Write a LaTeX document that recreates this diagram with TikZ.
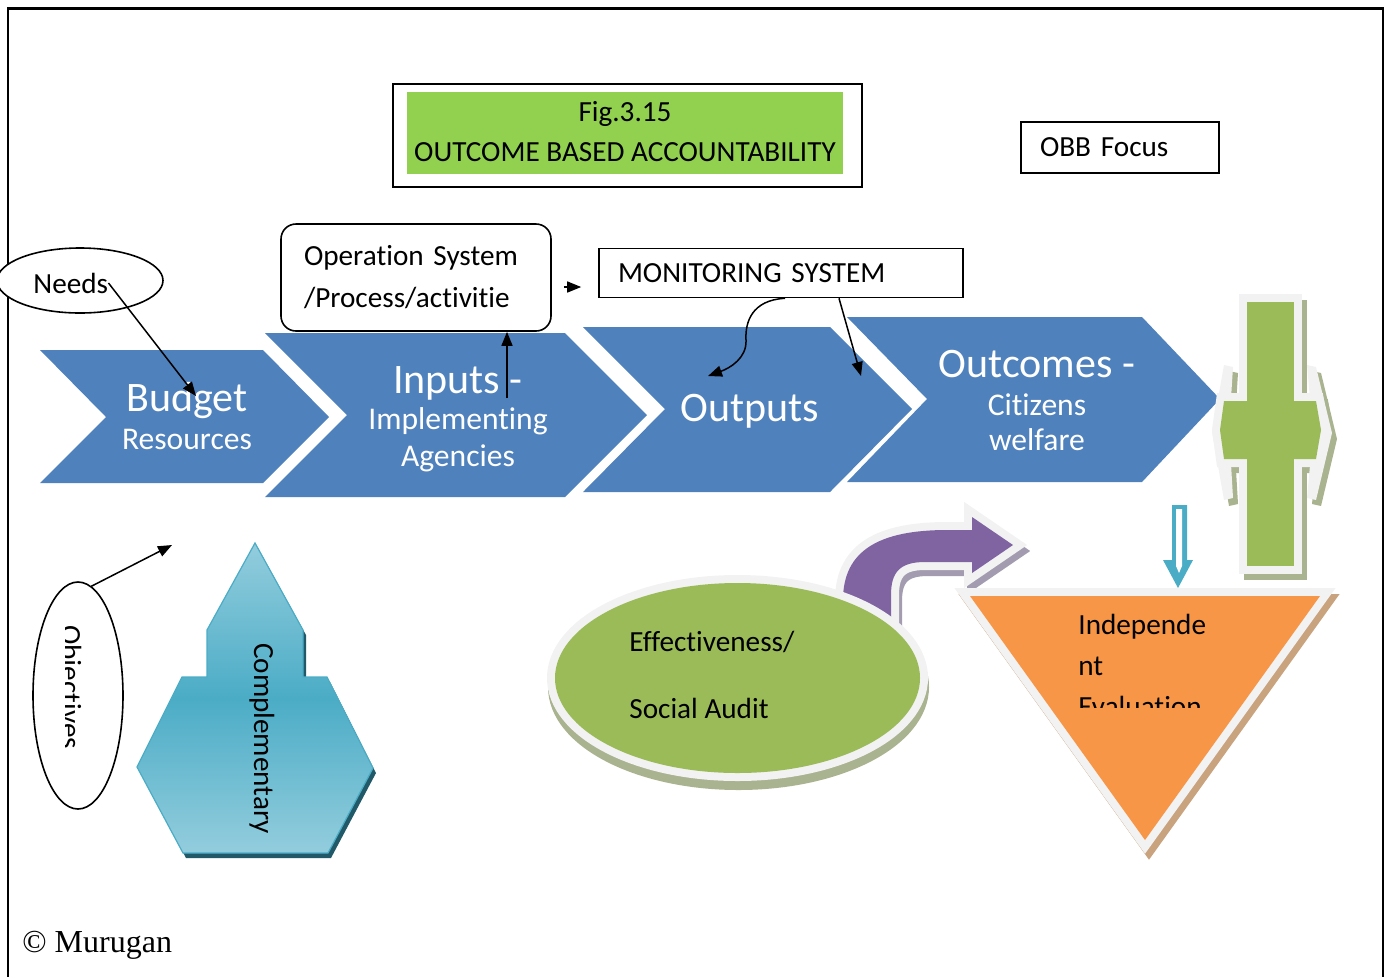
\documentclass[tikz,border=0pt]{standalone}
\usepackage{fontspec}
\setmainfont{Carlito}[Ligatures=NoCommon]
\newfontfamily\creditfont{Liberation Serif}
\usetikzlibrary{arrows.meta,shapes.geometric}

\definecolor{chevblue}{HTML}{4F81BD}
\definecolor{titlegreen}{HTML}{92D050}
\definecolor{leafgreen}{HTML}{9BBB59}
\definecolor{evalorange}{HTML}{F79646}
\definecolor{auditpurple}{HTML}{8064A2}
\definecolor{compteal}{HTML}{4BACC6}
\definecolor{complight}{HTML}{93CDDD}
\definecolor{compshadow}{HTML}{215968}
\definecolor{rimgray}{HTML}{F2F2F2}
\definecolor{greenshadow}{HTML}{A9B38F}
\definecolor{orangeshadow}{HTML}{C9A27E}
\definecolor{purpleshadow}{HTML}{A39BB0}

\begin{document}
\begin{tikzpicture}[x=0.5pt, y=-0.5pt,
    plaintext/.style={font=\fontsize{14.6}{17.5}\selectfont, inner sep=0pt},
    plainbox/.style={draw, line width=0.8pt, inner sep=0pt, align=left,
                     font=\fontsize{14.6}{17.5}\selectfont},
    chevtitle/.style={font=\fontsize{21}{25}\selectfont, text=white, inner sep=0pt, anchor=base},
    chevsub/.style={font=\fontsize{15.8}{19}\selectfont, text=white, inner sep=0pt, anchor=base},
    chevron/.style={fill=chevblue},
    arr/.style={-{Triangle[length=7pt,width=5.5pt]}, line width=0.75pt},
    rim/.style={preaction={draw=rimgray, line width=8pt, line join=miter}},
    compshape/.style={insert path={(255,543) -- (303,630) -- (303,677) -- (327,677) -- (373,768)
                      -- (328,853) -- (183,853) -- (137,767) -- (182,677) -- (207,677) -- (207,630) -- cycle}},
    auditarrow/.style={insert path={(843,640) -- (843,600) .. controls (843,550) and (880,530) .. (947,530)
                      -- (972,530) -- (972,517) -- (1013,545) -- (972,573) -- (972,562) -- (925,562)
                      .. controls (900,562) and (891,572) .. (891,595) -- (891,640) -- cycle}},
    auditellipse/.style={insert path={(737.5,678) ellipse [x radius=182.5, y radius=95]}},
    evaltri/.style={insert path={(970,596) -- (1320,596) -- (1145,840) -- cycle}},
    crossbar/.style={insert path={(1247,302) rectangle (1294,566)}},
    crosshex/.style={insert path={(1224,401) -- (1316,401) -- (1321,430) -- (1316,459) -- (1224,459) -- (1220,430) -- cycle}},
    leftbracket/.style={insert path={(1224,365) -- (1233,367) -- (1229,430) -- (1233,498) -- (1224,500) -- (1212,432) -- cycle}},
    rightbracket/.style={insert path={(1307,365) -- (1316,367) -- (1332,433) -- (1316,500) -- (1307,498) -- (1313,433) -- cycle}}]
    \useasboundingbox (0,0) rectangle (1391,976);
    \draw[line width=1pt] (8,8) rectangle (1383,1000);
    \draw[line width=1.5pt] (8,8) -- (1383,8);

    % title
    \node[draw, line width=0.8pt, minimum width=234.5pt, minimum height=51.5pt, inner sep=0pt] (titlebox) at (627.5,135.5) {};
    \node[fill=titlegreen, minimum width=218pt, minimum height=41pt, inner sep=0pt] (titlefill) at (625,133) {};
    \node[plaintext, anchor=base] (figno) at (625,121.5) {Fig.3.15};
    \node[plaintext, anchor=base] (figname) at (625,161.5) {OUTCOME BASED ACCOUNTABILITY};
    \node[plainbox, minimum width=99pt, minimum height=25.5pt, text width=80pt, inner xsep=9.5pt] (obb) at (1120,147.5) {OBB Focus};

    % boxes above the chevrons
    \node[draw, ellipse, fill=white, line width=0.8pt, minimum width=83pt, minimum height=32.5pt, inner sep=0pt] (needs) at (80,280.5) {};
    \node[plaintext, anchor=base west] (needstxt) at (33,293) {Needs};
    \node[plainbox, rounded corners=7.5pt, minimum width=135pt, minimum height=53.5pt, text width=112pt, inner xsep=11.5pt,
          font=\fontsize{14.6}{21}\selectfont] (ops) at (416,277.5) {Operation System\\/Process/activitie};
    \node[plainbox, minimum width=182pt, minimum height=24.5pt, text width=163pt, inner xsep=9.5pt] (mon) at (781,273) {MONITORING SYSTEM};

    % chevrons
    \fill[chevron] (40,350) -- (263,350) -- (329,417) -- (263,483) -- (40,483) -- (106,417) -- cycle;
    \fill[chevron] (265,333) -- (565,333) -- (647,415) -- (565,497) -- (265,497) -- (347,415) -- cycle;
    \fill[chevron] (583,327) -- (830,327) -- (912,409) -- (830,492) -- (583,492) -- (665,409) -- cycle;
    \fill[chevron] (847,317) -- (1142,317) -- (1220,399) -- (1142,482) -- (847,482) -- (927,399) -- cycle;
    \node[chevtitle] (budget) at (187,411) {Budget};
    \node[chevsub] (resources) at (187,449) {Resources};
    \node[chevtitle] (inputs) at (458,393) {Inputs -};
    \node[chevsub] (implementing) at (458,429) {Implementing};
    \node[chevsub] (agencies) at (458,466) {Agencies};
    \node[chevtitle] (outputs) at (750,421) {Outputs};
    \node[chevtitle] (outcomes) at (1037,377) {Outcomes -};
    \node[chevsub] (citizens) at (1037,415) {Citizens};
    \node[chevsub] (welfare) at (1037,450) {welfare};

    % connectors
    \coordinate (budgetin) at (196,396);
    \coordinate (inputsfoot) at (507,398);
    \coordinate (outputsin) at (708,376);
    \coordinate (outcomesin) at (861,376);
    \coordinate (objout) at (172,545);
    \draw[arr] (needstxt.east) -- (budgetin);
    \draw[arr] (inputsfoot) -- (inputsfoot |- ops.south);
    \draw[arr, shorten <=6pt, shorten >=8.5pt] ([yshift=-4.75pt]ops.east) -- ([yshift=-4.75pt]ops.east -| mon.west);
    \draw[arr] ([xshift=2pt]mon.south) .. controls (752,300) and (745,322) .. (746,340)
               .. controls (747,358) and (730,368) .. (outputsin);
    \draw[arr] ([xshift=29pt]mon.south) -- (outcomesin);

    % objectives
    \node[draw, ellipse, fill=white, line width=0.8pt, minimum width=45pt, minimum height=113.5pt, inner sep=0pt] (obj) at (78,695.5) {};
    \begin{scope}
      \clip (65,600) rectangle (110,790);
      \node[plaintext, rotate=-90, anchor=base] (objtxt) at (61,687) {Objectives};
    \end{scope}
    \draw[arr] (obj.83) -- (objout);

    % complementary
    \fill[compshadow, shift={(3,5)}, compshape];
    \shade[top color=complight, bottom color=complight, middle color=compteal, compshape];
    \draw[compteal, line width=0.6pt, compshape];
    \node[plaintext, rotate=-90, anchor=base] (comptxt) at (254,738.5) {Complementary};

    % social audit
    \filldraw[purpleshadow, line width=8pt, line join=miter, shift={(3,6)}, auditarrow];
    \fill[auditpurple, rim, auditarrow];
    \filldraw[greenshadow, line width=8pt, shift={(1,9)}, auditellipse];
    \fill[leafgreen, rim, auditellipse];
    \node[plaintext, anchor=base west] (audit1) at (629,651) {Effectiveness/};
    \node[plaintext, anchor=base west] (audit2) at (629,718) {Social Audit};

    % independent evaluation
    \fill[compteal] (1172,505) -- (1187,505) -- (1187,560) -- (1193,560) -- (1178,588) -- (1163,560) -- (1172,560) -- cycle;
    \fill[white] (1176,509) -- (1182,509) -- (1182,566) -- (1179,573) -- (1176,566) -- cycle;
    \filldraw[orangeshadow, line width=8pt, line join=miter, shift={(4,6)}, evaltri];
    \fill[evalorange, rim, evaltri];
    \begin{scope}
      \clip (1000,596) rectangle (1300,707);
      \node[plaintext, anchor=base west] (eval1) at (1078,634) {Independe};
      \node[plaintext, anchor=base west] (eval2) at (1078,675) {nt};
      \node[plaintext, anchor=base west] (eval3) at (1078,716) {Evaluation};
    \end{scope}

    % cross on the right
    \filldraw[greenshadow, line width=8pt, shift={(5,6)}, crossbar];
    \filldraw[greenshadow, line width=8pt, line join=miter, shift={(5,6)}, crosshex];
    \fill[greenshadow, shift={(5,6)}, leftbracket];
    \fill[greenshadow, shift={(5,6)}, rightbracket];
    \fill[rimgray, leftbracket];
    \fill[rimgray, rightbracket];
    \draw[rimgray, line width=8pt, crossbar];
    \draw[rimgray, line width=8pt, line join=miter, crosshex];
    \fill[leafgreen, crossbar];
    \fill[leafgreen, crosshex];

    \node[font=\creditfont\fontsize{16}{19}\selectfont, anchor=base west, inner sep=0pt] (credit) at (22,952) {© Murugan};
\end{tikzpicture}
\end{document}
